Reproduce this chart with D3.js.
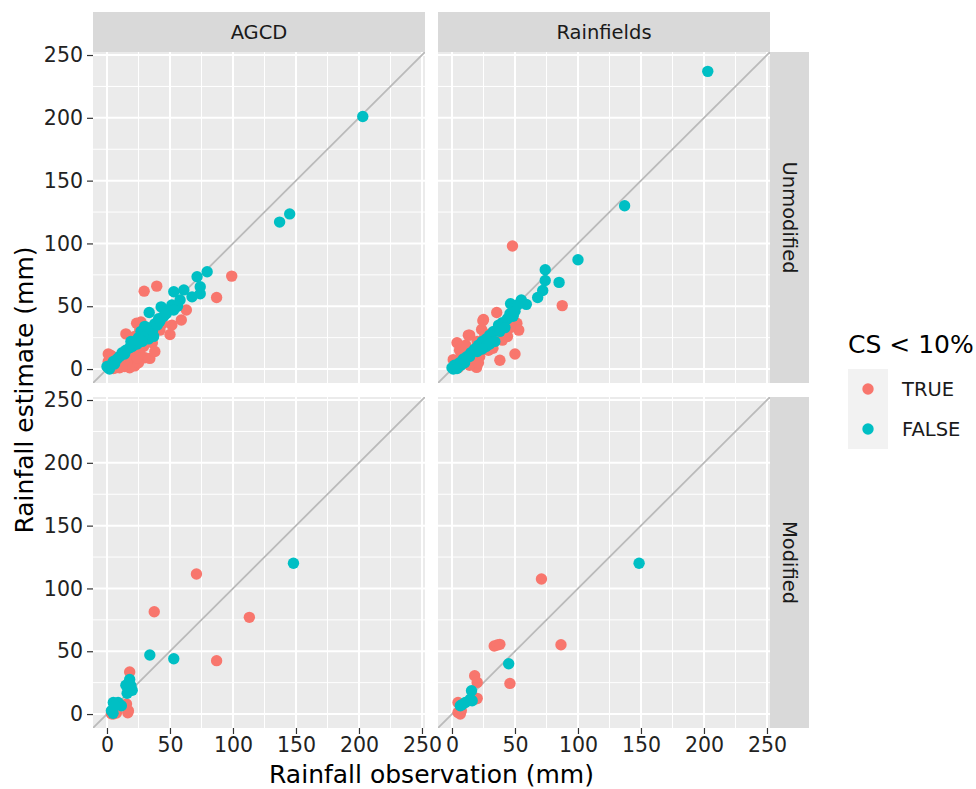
<!DOCTYPE html>
<html>
<head>
<meta charset="utf-8">
<script src="https://cdn.jsdelivr.net/npm/d3@7"></script>
<style>
  body { margin: 0; background: #fff; }
  text { font-family: "DejaVu Sans", sans-serif; }
</style>
</head>
<body>
<div id="chart"></div>
<script>
const columns = ['AGCD', 'Rainfields'];
const rows = ['Unmodified', 'Modified'];
const groups = ['TRUE', 'FALSE'];
const ticks = [0, 50, 100, 150, 200, 250];
const minorTicks = [25, 75, 125, 175, 225];

// [observation, estimate] pairs
const agcdUnmodifiedTrue = [
  [99, 74], [87, 57], [39.5, 66], [29.5, 62], [63, 47], [59, 39], [51.5, 35], [50, 27.5],
  [42, 31], [23.5, 36.5], [27, 37.5], [15, 28], [29, 18], [34, 8.5], [30, 9], [21, 11],
  [20, 7], [22, 2.5], [17, 7], [1, 12], [2, 8], [4, 10], [6, 5], [8, 3], [10, 1], [12, 6],
  [14, 2], [18, 1], [3, 2], [5, 0.5], [9, 9], [13, 10], [16, 4], [19, 13], [24, 15], [26, 12],
  [31, 21], [34, 26], [36, 21], [22, 26], [26, 31], [44, 36], [38, 14], [11, 3], [7, 1],
  [15, 8], [25, 5], [24, 9], [12, 2], [1, 6], [3, 11],
];
const agcdUnmodifiedFalse = [
  [203, 201], [137, 117], [145, 123.5], [79.5, 77.5], [71.5, 73.5], [74, 65.5], [74, 60],
  [67.5, 57.5], [61, 63], [53, 61.5], [58, 55], [51.5, 51], [56, 50], [43, 49.5], [33.5, 45],
  [48, 47], [45, 42], [41, 40], [38, 36], [35, 33], [32, 30], [30, 28], [28, 26], [25, 25],
  [22, 22], [20, 18], [18, 17], [15, 15], [12, 13], [10, 10], [8, 8], [5, 6], [3, 3], [1, 1],
  [0, 2], [2, 0], [27, 30], [31, 27], [36, 30], [40, 35], [30, 34], [24, 20], [19, 22],
  [14, 12], [6, 4], [33, 24], [28, 22], [42, 38], [47, 44], [53, 47], [37, 26],
];
const rainfieldsUnmodifiedTrue = [
  [48, 98], [87.5, 50.5], [35.5, 45], [25, 39.5], [23.5, 31.5], [14, 27], [4, 21], [8, 18],
  [51.5, 36.5], [53, 31], [40, 23], [42, 29.5], [29, 15], [38, 7], [50, 12], [19.5, 1.3],
  [17, 7], [10, 4.5], [1, 7.5], [22, 10], [32.5, 16.5], [24.5, 38.5], [13, 27], [20, 22],
  [26, 26], [8, 12], [12, 8], [16, 14], [30, 28], [34, 23], [2, 3], [5, 1], [14, 3], [27, 20],
  [44, 26], [46, 33], [6, 15], [11, 19], [21, 5],
];
const rainfieldsUnmodifiedFalse = [
  [203, 237], [137, 130], [100, 87], [74, 79], [74, 70.5], [85, 69], [72, 62.5], [68, 57],
  [59, 51.5], [55, 55], [46.5, 52], [52, 51], [48.5, 42], [44, 40], [40, 37], [37, 35],
  [33, 30], [30, 27], [27, 24], [24, 22], [21, 19], [18, 16], [15, 13], [12, 10], [9, 8],
  [6, 5], [3, 2], [1, 0], [0, 1], [2, 3], [34, 22], [27, 18], [38, 30], [42, 33], [30, 20],
  [24, 16], [20, 14], [14, 10], [10, 5], [5, 3], [46, 44], [50, 46], [7, 3], [4, 0.5],
];
const agcdModifiedTrue = [
  [71, 111.5], [37.5, 81.5], [113, 77], [87, 42.5], [18, 33.5], [15.5, 8], [17, 2.6],
  [16.5, 1], [3.5, 0.3], [7.5, 0.8], [5, 0], [6, 1.5],
];
const agcdModifiedFalse = [
  [148, 120], [34, 47], [53, 44], [18, 27.5], [15, 23], [19, 22.5], [20, 19], [16, 16.5],
  [5, 9.2], [8.8, 9.2], [11.4, 6.6], [3.5, 2.6], [4.8, 0.6], [6.5, 7],
];
const rainfieldsModifiedTrue = [
  [71, 107.5], [86.5, 55.2], [33.5, 54.2], [36, 55], [38, 55.5], [46, 24.4], [18, 30.5],
  [20, 25.2], [18.6, 12], [4.8, 9.2], [4.8, 1.3], [6.6, 0], [7.4, 2.6], [20, 12.5],
];
const rainfieldsModifiedFalse = [
  [148.5, 120], [45, 40], [15.5, 18.6], [16, 10.6], [10.6, 9.2], [6.6, 6.6], [14.6, 11.9], [8, 7.5],
];

const panels = [
  { col: 0, row: 0, series: [agcdUnmodifiedTrue, agcdUnmodifiedFalse] },
  { col: 1, row: 0, series: [rainfieldsUnmodifiedTrue, rainfieldsUnmodifiedFalse] },
  { col: 0, row: 1, series: [agcdModifiedTrue, agcdModifiedFalse] },
  { col: 1, row: 1, series: [rainfieldsModifiedTrue, rainfieldsModifiedFalse] },
];

const width = 976;
const height = 789;
const marginLeft = 93;
const marginTop = 52;
const panelW = 332;
const panelH = 331;
const gapX = 13;
const gapY = 14;
const stripSize = 40;
const textSize = 19.5;
const tickSize = 20.5;
const titleSize = 25;
const pointR = 5.7;

const x = d3.scaleLinear().domain([-11.1, 252.4]).range([0, panelW]);
const y = d3.scaleLinear().domain([-11.1, 252.4]).range([panelH, 0]);
const colour = d3.scaleOrdinal().domain(groups).range(['#F8766D', '#00BFC4']);

const svg = d3.select('#chart').append('svg')
  .attr('width', width)
  .attr('height', height);

svg.append('defs').append('clipPath')
  .attr('id', 'panel-clip')
  .append('rect')
  .attr('width', panelW)
  .attr('height', panelH);

const px = (col) => marginLeft + col * (panelW + gapX);
const py = (row) => marginTop + row * (panelH + gapY);

function styleAxis(ax) {
  ax.select('.domain').remove();
  ax.selectAll('line').attr('stroke', '#333').attr('stroke-width', 1.2);
  ax.selectAll('text')
    .attr('fill', '#222')
    .style('font-size', `${tickSize}px`)
    .style('font-family', '"DejaVu Sans", sans-serif');
}

panels.forEach((p) => {
  const g = svg.append('g')
    .attr('transform', `translate(${px(p.col)},${py(p.row)})`);

  g.append('rect')
    .attr('width', panelW)
    .attr('height', panelH)
    .attr('fill', '#EBEBEB');

  const grid = g.append('g').attr('clip-path', 'url(#panel-clip)');
  grid.selectAll('.minor-x').data(minorTicks).enter().append('line')
    .attr('x1', (d) => x(d)).attr('x2', (d) => x(d))
    .attr('y1', 0).attr('y2', panelH)
    .attr('stroke', '#fff').attr('stroke-width', 1);
  grid.selectAll('.minor-y').data(minorTicks).enter().append('line')
    .attr('y1', (d) => y(d)).attr('y2', (d) => y(d))
    .attr('x1', 0).attr('x2', panelW)
    .attr('stroke', '#fff').attr('stroke-width', 1);
  grid.selectAll('.major-x').data(ticks).enter().append('line')
    .attr('x1', (d) => x(d)).attr('x2', (d) => x(d))
    .attr('y1', 0).attr('y2', panelH)
    .attr('stroke', '#fff').attr('stroke-width', 2);
  grid.selectAll('.major-y').data(ticks).enter().append('line')
    .attr('y1', (d) => y(d)).attr('y2', (d) => y(d))
    .attr('x1', 0).attr('x2', panelW)
    .attr('stroke', '#fff').attr('stroke-width', 2);

  // 1:1 line
  grid.append('line')
    .attr('x1', x(-20)).attr('y1', y(-20))
    .attr('x2', x(270)).attr('y2', y(270))
    .attr('stroke', '#BABABA')
    .attr('stroke-width', 1.8);

  p.series.forEach((pts, i) => {
    grid.selectAll(`.pt-${i}`).data(pts).enter().append('circle')
      .attr('class', `pt-${i}`)
      .attr('cx', (d) => x(d[0]))
      .attr('cy', (d) => y(d[1]))
      .attr('r', pointR)
      .attr('fill', colour(groups[i]));
  });

  if (p.col === 0) {
    const ax = g.append('g')
      .call(d3.axisLeft(y).tickValues(ticks).tickSize(6).tickPadding(4));
    styleAxis(ax);
  }
  if (p.row === rows.length - 1) {
    const ax = g.append('g')
      .attr('transform', `translate(0,${panelH})`)
      .call(d3.axisBottom(x).tickValues(ticks).tickSize(6).tickPadding(3));
    styleAxis(ax);
  }
});

// column strips
columns.forEach((c, i) => {
  svg.append('rect')
    .attr('x', px(i)).attr('y', marginTop - stripSize)
    .attr('width', panelW).attr('height', stripSize)
    .attr('fill', '#D9D9D9');
  svg.append('text')
    .attr('x', px(i) + panelW / 2)
    .attr('y', marginTop - stripSize / 2)
    .attr('dy', '0.35em')
    .attr('text-anchor', 'middle')
    .attr('fill', '#1A1A1A')
    .style('font-size', `${textSize}px`)
    .text(c);
});

// row strips
const stripX = px(columns.length - 1) + panelW;
rows.forEach((r, i) => {
  svg.append('rect')
    .attr('x', stripX).attr('y', py(i))
    .attr('width', stripSize - 1).attr('height', panelH)
    .attr('fill', '#D9D9D9');
  const cx = stripX + (stripSize - 1) / 2;
  const cy = py(i) + panelH / 2;
  svg.append('text')
    .attr('transform', `translate(${cx},${cy}) rotate(90)`)
    .attr('dy', '0.35em')
    .attr('text-anchor', 'middle')
    .attr('fill', '#1A1A1A')
    .style('font-size', `${textSize}px`)
    .text(r);
});

// axis titles
svg.append('text')
  .attr('x', (marginLeft + stripX) / 2)
  .attr('y', 783)
  .attr('text-anchor', 'middle')
  .attr('fill', '#000')
  .style('font-size', `${titleSize}px`)
  .text('Rainfall observation (mm)');

svg.append('text')
  .attr('transform', `translate(33,${(marginTop + py(1) + panelH) / 2}) rotate(-90)`)
  .attr('text-anchor', 'middle')
  .attr('fill', '#000')
  .style('font-size', `${titleSize}px`)
  .text('Rainfall estimate (mm)');

// legend
const legend = svg.append('g').attr('transform', 'translate(848,353)');
legend.append('text')
  .attr('fill', '#000')
  .style('font-size', `${titleSize}px`)
  .text('CS < 10%');
legend.append('rect')
  .attr('y', 16)
  .attr('width', 40).attr('height', 80)
  .attr('fill', '#F2F2F2');
groups.forEach((gName, i) => {
  legend.append('circle')
    .attr('cx', 20).attr('cy', 36 + i * 40)
    .attr('r', pointR)
    .attr('fill', colour(gName));
  legend.append('text')
    .attr('x', 54).attr('y', 36 + i * 40)
    .attr('dy', '0.35em')
    .attr('fill', '#1A1A1A')
    .style('font-size', `${textSize}px`)
    .text(gName);
});
</script>
</body>
</html>
